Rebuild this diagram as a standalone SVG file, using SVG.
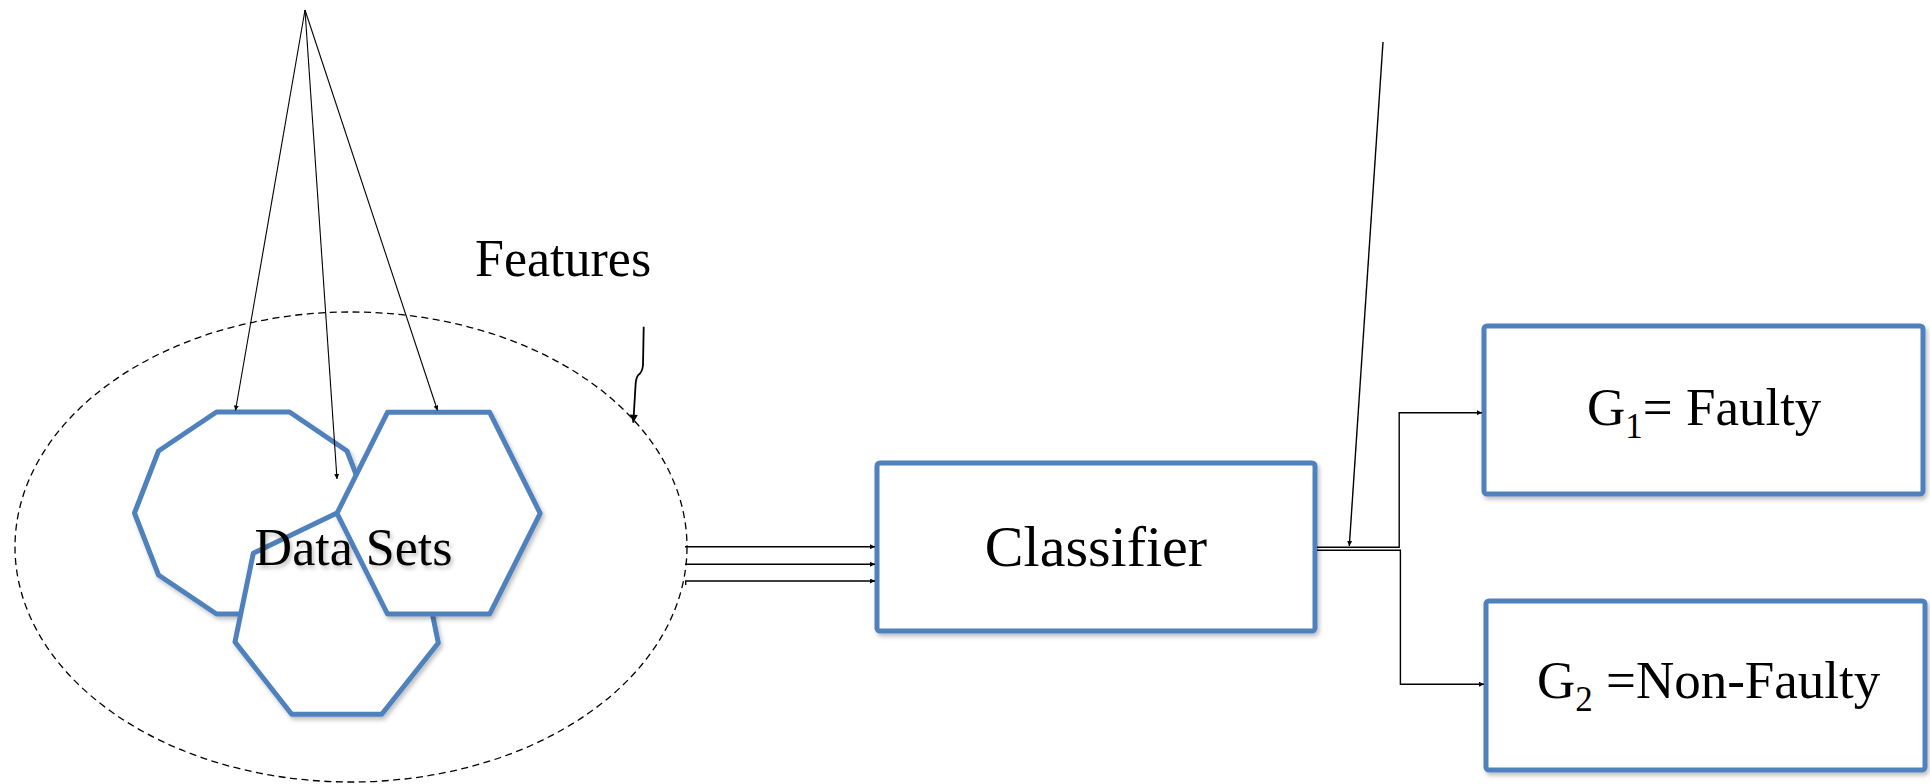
<svg xmlns="http://www.w3.org/2000/svg" width="1930" height="784" viewBox="0 0 1930 784">
  <defs>
    <style>
      .shape { fill: #ffffff; stroke: #4f81bd; stroke-width: 5; stroke-linejoin: round; }
      .box { fill: #ffffff; stroke: #4f81bd; stroke-width: 5; }
      .lbl { font-family: "Liberation Serif", "Times New Roman", serif; fill: #000000; }
      .thin { fill: none; stroke: #000000; stroke-width: 1.1; }
      .conn { fill: none; stroke: #000000; stroke-width: 1.4; }
      .dash { fill: none; stroke: #000000; stroke-width: 1.3; stroke-dasharray: 7 4.5; }
    </style>
    <filter id="shadow" x="-10%" y="-10%" width="125%" height="125%">
      <feDropShadow dx="2" dy="3" stdDeviation="2" flood-color="#000000" flood-opacity="0.25"/>
    </filter>
    <marker id="tip" viewBox="0 0 10 10" refX="10" refY="5" markerWidth="5" markerHeight="5" markerUnits="userSpaceOnUse" orient="auto">
      <path d="M0,0 L10,5 L0,10 Z" fill="#000000"/>
    </marker>
    <marker id="tipBig" viewBox="0 0 10 10" refX="10" refY="5" markerWidth="9" markerHeight="8" markerUnits="userSpaceOnUse" orient="auto">
      <path d="M0,0 L10,5 L0,10 Z" fill="#000000"/>
    </marker>
  </defs>
  <rect width="1930" height="784" fill="#ffffff"/>

  <!-- feature space boundary -->
  <g id="features">
    <ellipse class="dash" cx="351" cy="547" rx="336" ry="235"/>
    <text class="lbl" x="475" y="276" font-size="52">Features</text>
  </g>

  <!-- three overlapping data set shapes -->
  <g id="datasets">
    <polygon class="shape" filter="url(#shadow)" points="216.5,412 289.5,412 347,451 371,513 347,575 289.5,614 216.5,614 158.5,575 134.5,513 158.5,451"/>
    <polygon class="shape" filter="url(#shadow)" points="337,513 420,553 438.3,643 381.7,714.3 291.7,714.3 235,642 253.3,553.3"/>
    <polygon class="shape" filter="url(#shadow)" points="387.5,412.3 489.7,412.3 540.2,513.3 489.7,614 387.5,614 337,513.3"/>
    <text class="lbl" x="353.5" y="565" font-size="52" text-anchor="middle" filter="url(#shadow)">Data Sets</text>
  </g>

  <g id="classifier">
    <rect class="box" filter="url(#shadow)" x="877" y="463" width="438" height="168" rx="3"/>
    <text class="lbl" x="1096" y="566" font-size="58" text-anchor="middle">Classifier</text>
  </g>

  <g id="g1">
    <rect class="box" filter="url(#shadow)" x="1484" y="326" width="439" height="168" rx="3"/>
    <text class="lbl" x="1587" y="425" font-size="53">G<tspan font-size="35" dy="12.7">1</tspan><tspan dy="-12.7">= Faulty</tspan></text>
  </g>

  <g id="g2">
    <rect class="box" filter="url(#shadow)" x="1486" y="601" width="439" height="169" rx="3"/>
    <text class="lbl" x="1537" y="698" font-size="53">G<tspan font-size="35" dy="13.4">2</tspan><tspan dy="-13.4"> =Non-Faulty</tspan></text>
  </g>

  <g id="connectors">
    <!-- fan of lines into the data sets -->
    <line class="thin" x1="305" y1="10" x2="235.5" y2="410.5" marker-end="url(#tip)"/>
    <line class="thin" x1="305" y1="10" x2="337" y2="479" marker-end="url(#tip)"/>
    <line class="thin" x1="305" y1="10" x2="437.5" y2="410.5" marker-end="url(#tip)"/>
    <!-- pointer onto the feature boundary -->
    <path d="M643.7,326.7 L643,365 Q642.5,372 638.3,375 Q635.7,378 635.5,386 L633.3,422.7" fill="none" stroke="#000000" stroke-width="1.8" marker-end="url(#tipBig)"/>
    <!-- features into classifier -->
    <line class="conn" x1="685" y1="546.7" x2="875" y2="546.7" marker-end="url(#tip)"/>
    <line class="conn" x1="685" y1="564.3" x2="875" y2="564.3" marker-end="url(#tip)"/>
    <path class="conn" d="M685.7,585 L685.7,581 L875,581" marker-end="url(#tip)"/>
    <!-- classifier outputs -->
    <path class="conn" d="M1317,547.3 L1399.2,547.3 L1399.2,412.7 L1482,412.7" marker-end="url(#tip)"/>
    <path class="conn" d="M1317,550.3 L1400.4,550.3 L1400.4,684.3 L1484,684.3" marker-end="url(#tip)"/>
    <!-- pointer onto the output line -->
    <line class="conn" x1="1383" y1="42" x2="1349.3" y2="546" marker-end="url(#tip)"/>
  </g>
</svg>
